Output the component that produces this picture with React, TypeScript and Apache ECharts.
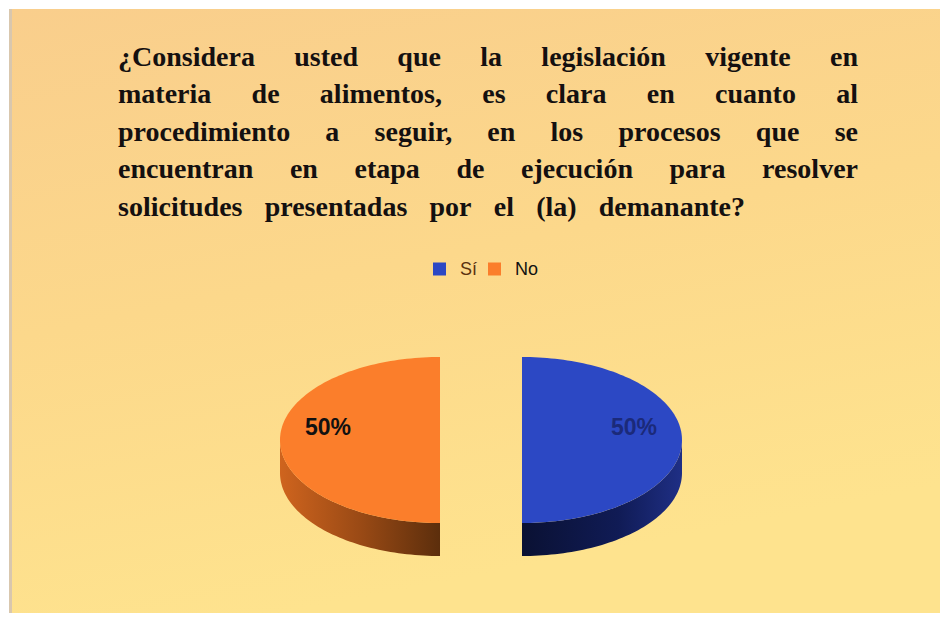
import React, { useEffect, useRef } from 'react';
import * as echarts from 'echarts';

// ---- data ----
const titleLines = [
  '¿Considera usted que la legislación vigente en',
  'materia de alimentos, es clara en cuanto al',
  'procedimiento a seguir, en los procesos que se',
  'encuentran en etapa de ejecución para resolver',
  'solicitudes presentadas por el (la) demanante?',
];
const categories = ['Sí', 'No'];
const values = [50, 50];

// ---- styles ----
const topColors = ['#2C48C4', '#FB7E2B'];
const sideStops = [
  ['#0A1133', '#101B55', '#1F2F85'],
  ['#5C2E0C', '#9A4A15', '#CF641E'],
];
const labelColors = ['#1B2A7A', '#111111'];
const legendTextColors = ['#5A3210', '#111111'];

const TITLE_FONT = 'bold 28px "Liberation Serif"';
const TITLE_X0 = 118;
const lineEnds = [858, 858, 858, 858, 745];
const baselines = [65, 102.5, 140, 177.5, 215];

const CX = 481;
const CY = 440;
const RX = 160;
const RY = 83;
const DEPTH = 33;
const EXPLODE = 41;

function buildTitle() {
  const ctx = document.createElement('canvas').getContext('2d') as CanvasRenderingContext2D;
  ctx.font = TITLE_FONT;
  const els: any[] = [];
  titleLines.forEach((line, li) => {
    const words = line.split(' ');
    const widths = words.map((w) => ctx.measureText(w).width);
    const sum = widths.reduce((a, b) => a + b, 0);
    const gap = words.length > 1 ? (lineEnds[li] - TITLE_X0 - sum) / (words.length - 1) : 0;
    let x = TITLE_X0;
    words.forEach((w, wi) => {
      els.push({
        type: 'text',
        x,
        y: baselines[li] - 9,
        style: { text: w, font: TITLE_FONT, fill: '#141010', verticalAlign: 'middle', align: 'left' },
      });
      x += widths[wi] + gap;
    });
  });
  return els;
}

const rad = (d: number) => (d * Math.PI) / 180;

function arcPoints(ox: number, oy: number, a: number, b: number, dz: number) {
  const pts: number[][] = [];
  const n = Math.max(2, Math.ceil(Math.abs(b - a) / 1.5));
  for (let k = 0; k <= n; k++) {
    const t = rad(a + ((b - a) * k) / n);
    pts.push([ox + RX * Math.cos(t), oy + RY * Math.sin(t) + dz]);
  }
  return pts;
}

export default function App() {
  const ref = useRef<HTMLDivElement>(null);
  useEffect(() => {
    document.body.style.margin = '0';
    if (!ref.current) return;
    const chart = echarts.init(ref.current, null, { renderer: 'svg' });
    const total = values.reduce((a, b) => a + b, 0);

    const series = categories.map((name, i) => ({
      type: 'custom',
      name,
      coordinateSystem: 'none',
      itemStyle: { color: topColors[i] },
      data: [values[i]],
      renderItem: (params: any, api: any) => {
        const v = api.value(0);
        const before = values.slice(0, i).reduce((a, b) => a + b, 0);
        const start = -90 + (360 * before) / total;
        const end = start + (360 * v) / total;
        const mid = rad((start + end) / 2);
        const ox = CX + EXPLODE * Math.cos(mid);
        const oy = CY + EXPLODE * Math.sin(mid) * (RY / RX);
        const children: any[] = [];
        const a = Math.max(start, 0);
        const b = Math.min(end, 180);
        if (b > a) {
          const topArc = arcPoints(ox, oy, a, b, 0);
          const botArc = arcPoints(ox, oy, b, a, DEPTH);
          const leftIsCut = Math.cos(mid) > 0;
          const s = sideStops[i];
          children.push({
            type: 'polygon',
            shape: { points: topArc.concat(botArc) },
            style: {
              fill: {
                type: 'linear', x: 0, y: 0, x2: 1, y2: 0,
                colorStops: leftIsCut
                  ? [{ offset: 0, color: s[0] }, { offset: 0.6, color: s[1] }, { offset: 1, color: s[2] }]
                  : [{ offset: 0, color: s[2] }, { offset: 0.5, color: s[1] }, { offset: 1, color: s[0] }],
              },
            },
          });
        }
        const top = [[ox, oy]].concat(arcPoints(ox, oy, start, end, 0));
        children.push({
          type: 'polygon',
          shape: { points: top },
          style: { fill: topColors[i] },
        });
        const pct = Math.round((v / total) * 100) + '%';
        children.push({
          type: 'text',
          x: ox + 0.7 * RX * Math.cos(mid),
          y: oy + 0.7 * RY * Math.sin(mid) - 13,
          style: {
            text: pct,
            font: 'bold 23px "Liberation Sans"',
            fill: labelColors[i],
            align: 'center',
            verticalAlign: 'middle',
          },
        });
        return { type: 'group', children };
      },
    }));

    chart.setOption({
      animation: false,
      backgroundColor: '#ffffff',
      legend: {
        left: 428,
        top: 255,
        itemWidth: 13,
        itemHeight: 13,
        itemGap: 11,
        data: categories.map((name, i) => ({
          name,
          icon: 'rect',
          itemStyle: { color: topColors[i] },
          textStyle: { color: legendTextColors[i], fontSize: 18, fontFamily: 'Liberation Sans', padding: [0, 0, 0, 9] },
        })),
      },
      graphic: [
        {
          type: 'rect',
          z: -10,
          silent: true,
          shape: { x: 11, y: 9, width: 929, height: 604 },
          style: {
            fill: {
              type: 'linear', x: 0, y: 0, x2: 0.3, y2: 1,
              colorStops: [
                { offset: 0, color: '#F9CE8C' },
                { offset: 0.5, color: '#FCD88B' },
                { offset: 1, color: '#FEE38E' },
              ],
            },
          },
        },
        {
          type: 'rect',
          z: -9,
          silent: true,
          shape: { x: 9, y: 9, width: 3, height: 604 },
          style: { fill: '#D9C7AE' },
        },
        ...buildTitle(),
      ],
      series,
    });
    return () => chart.dispose();
  }, []);
  return <div ref={ref} style={{ width: 940, height: 621 }} />;
}
